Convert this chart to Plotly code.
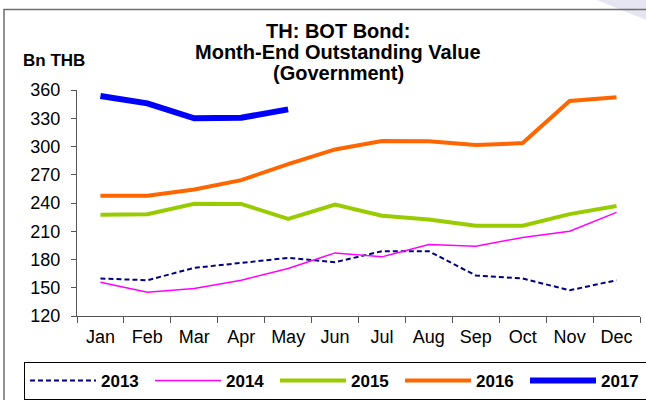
import plotly.graph_objects as go

months = ["Jan", "Feb", "Mar", "Apr", "May", "Jun", "Jul", "Aug", "Sep", "Oct", "Nov", "Dec"]
y2013 = [159.8, 158.0, 171.1, 176.4, 181.7, 177.1, 188.8, 188.8, 163.0, 159.8, 147.3, 158.0]
y2014 = [155.9, 145.2, 149.1, 158.0, 170.4, 187.0, 182.8, 195.9, 194.1, 203.4, 210.1, 230.0]
y2015 = [227.5, 228.0, 239.1, 239.0, 223.2, 238.4, 226.4, 222.5, 215.8, 215.8, 228.2, 236.9]
y2016 = [247.7, 247.7, 254.4, 264.3, 281.3, 296.9, 305.8, 305.5, 301.5, 303.6, 348.3, 352.2]
y2017 = [353.6, 345.8, 329.9, 330.5, 339.4]

title_lines = ["TH: BOT Bond:", "Month-End Outstanding Value", "(Government)"]
y_unit = "Bn THB"
y_ticks = [120, 150, 180, 210, 240, 270, 300, 330, 360]

FONT = "Liberation Sans, Arial, sans-serif"

# plot area in pixels
L, R, T, B = 77, 640, 90, 316
W, H = 646, 400


def px(x):
    return (x - L) / (R - L)


def py(y):
    return (B - y) / (B - T)


fig = go.Figure()
series = [
    ("2013", y2013, dict(color="#000080", width=2, dash="5px,3px")),
    ("2014", y2014, dict(color="#FF00FF", width=1.5)),
    ("2015", y2015, dict(color="#99CC00", width=4)),
    ("2016", y2016, dict(color="#FF6600", width=4)),
    ("2017", y2017, dict(color="#0000FF", width=6)),
]
for name, vals, line in series:
    fig.add_trace(go.Scatter(x=months[:len(vals)], y=vals, name="<b>%s</b>" % name,
                             mode="lines", line=line))

annotations = []
for txt, yy in zip(title_lines, [30.5, 52, 73]):
    annotations.append(dict(text="<b>%s</b>" % txt, xref="paper", yref="paper", x=px(338), y=py(yy),
                            xanchor="center", yanchor="middle", showarrow=False,
                            font=dict(family=FONT, size=20, color="black")))
annotations.append(dict(text="<b>%s</b>" % y_unit, xref="paper", yref="paper", x=px(21), y=py(60),
                        xanchor="left", yanchor="middle", showarrow=False,
                        font=dict(family=FONT, size=17, color="black")))

shapes = [
    dict(type="path", xref="paper", yref="paper",
         path="M %f,%f L %f,%f L %f,%f Z" % (px(597), py(0), px(646), py(0), px(646), py(20)),
         fillcolor="#E6E6F2", line=dict(width=0), layer="below"),
    dict(type="path", xref="paper", yref="paper",
         path="M %f,%f L %f,%f L %f,%f" % (px(4), py(400), px(4), py(9.5), px(646), py(9.5)),
         line=dict(color="#6E6E6E", width=1.5)),
]

fig.update_layout(
    width=W, height=H,
    margin=dict(l=L, r=W - R, t=T, b=H - B, pad=0, autoexpand=False),
    paper_bgcolor="white", plot_bgcolor="white",
    font=dict(family=FONT, size=18, color="black"),
    showlegend=True,
    legend=dict(orientation="h", x=px(24), y=py(362), xanchor="left", yanchor="top",
                bordercolor="black", borderwidth=1, bgcolor="white",
                font=dict(family=FONT, size=17, color="black"),
                entrywidth=44, entrywidthmode="pixels", traceorder="normal",
                itemwidth=66, tracegroupgap=0),
    annotations=annotations,
    shapes=shapes,
)
fig.update_xaxes(type="category", range=[-0.5, 11.5], showgrid=False, zeroline=False,
                 showline=True, linecolor="#555555", linewidth=1,
                 ticks="outside", ticklen=6, tickcolor="#555555", tickson="boundaries",
                 ticklabelstandoff=4,
                 tickfont=dict(family=FONT, size=18, color="black"))
fig.update_yaxes(range=[120, 360], tickvals=y_ticks, showgrid=False, zeroline=False,
                 showline=True, linecolor="#555555", linewidth=1,
                 ticks="outside", ticklen=5, tickcolor="#555555",
                 ticklabelstandoff=7,
                 tickfont=dict(family=FONT, size=18, color="black"))

fig.write_html("out.html", config={"displayModeBar": False},
               post_script="document.body.style.margin='0';document.body.style.padding='0';")
